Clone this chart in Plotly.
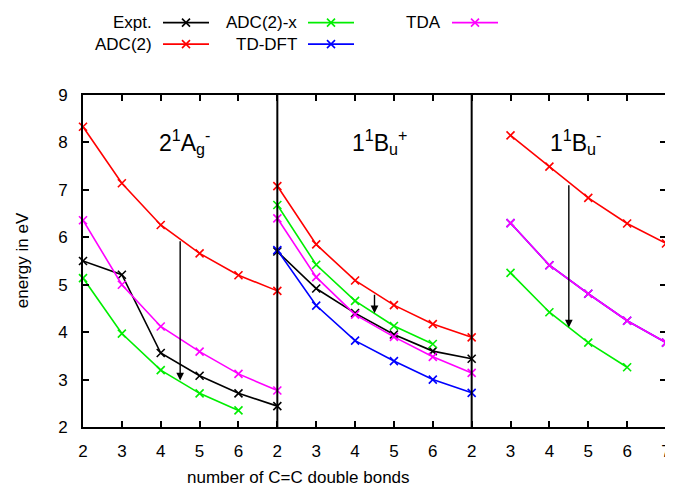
import plotly.graph_objects as go

# ---------------- data ----------------
tick_labels = ["2", "3", "4", "5", "6", "2", "3", "4", "5", "6", "2", "3", "4", "5", "6", "7"]
panel_titles = ["2<sup>1</sup>A<sub>g</sub><sup>-</sup>",
                "1<sup>1</sup>B<sub>u</sub><sup>+</sup>",
                "1<sup>1</sup>B<sub>u</sub><sup>-</sup>"]

# panel 1: 2^1Ag-
p1_n = [2, 3, 4, 5, 6, 7]
p1_expt = [5.50, 5.21, 3.56, 3.08, 2.71, 2.44]
p1_adc2 = [8.33, 7.14, 6.26, 5.66, 5.20, 4.87]
p1_adc2x = [5.14, 3.97, 3.20, 2.71, 2.35]
p1_tda = [6.36, 5.00, 4.12, 3.59, 3.12, 2.77]

# panel 2: 1^1Bu+
p2_n = [2, 3, 4, 5, 6, 7]
p2_expt = [5.70, 4.92, 4.40, 3.95, 3.60, 3.44]
p2_adc2 = [7.08, 5.85, 5.09, 4.57, 4.17, 3.89]
p2_adc2x = [6.68, 5.42, 4.66, 4.13, 3.75]
p2_tddft = [5.73, 4.56, 3.82, 3.39, 3.00, 2.72]
p2_tda = [6.40, 5.16, 4.37, 3.90, 3.48, 3.14]

# panel 3: 1^1Bu-
p3_n = [3, 4, 5, 6, 7]
p3_adc2 = [8.15, 7.49, 6.83, 6.29, 5.87]
p3_adc2x = [5.25, 4.42, 3.78, 3.26]
p3_tddft = [6.30, 5.41, 4.81, 4.24, 3.78]
p3_tda = [6.30, 5.41, 4.81, 4.24, 3.78]

# arrows (n value, from energy, to energy), one per panel
arrow_n = [4.5, 4.5, 4.5]
arrow_from = [5.95, 4.82, 7.13]
arrow_to = [2.98, 4.40, 4.10]

# ---------------- styling ----------------
series_names = ["Expt.", "ADC(2)", "ADC(2)-x", "TD-DFT", "TDA"]
colors = {"Expt.": "#000000", "ADC(2)": "#ff0000", "ADC(2)-x": "#00ee00",
          "TD-DFT": "#0000ff", "TDA": "#ff00ff"}
panel_offset = [0, 5, 10]   # x position of n=2 in each panel
FONT = "Liberation Sans, Arial, Helvetica, sans-serif"

panels = [
    {"n": p1_n, "Expt.": p1_expt, "ADC(2)": p1_adc2, "ADC(2)-x": p1_adc2x, "TDA": p1_tda},
    {"n": p2_n, "Expt.": p2_expt, "ADC(2)": p2_adc2, "ADC(2)-x": p2_adc2x, "TD-DFT": p2_tddft, "TDA": p2_tda},
    {"n": p3_n, "ADC(2)": p3_adc2, "ADC(2)-x": p3_adc2x, "TD-DFT": p3_tddft, "TDA": p3_tda},
]

fig = go.Figure()

for pi, p in enumerate(panels):
    for name in series_names:
        if name not in p:
            continue
        vals = p[name]
        xs = [panel_offset[pi] + (n - 2) for n in p["n"][:len(vals)]]
        fig.add_trace(go.Scatter(
            x=xs, y=vals, mode="lines+markers", name=name, showlegend=False,
            line=dict(color=colors[name], width=1.6),
            marker=dict(symbol="x-thin", size=8, color=colors[name],
                        line=dict(color=colors[name], width=1.6)),
            cliponaxis=False, xaxis="x", yaxis="y"))

# panel separators
for off in panel_offset[1:]:
    fig.add_shape(type="line", xref="x", yref="y domain", x0=off, x1=off, y0=0, y1=1,
                  line=dict(color="black", width=2))

# arrows
for pi in range(3):
    xa = panel_offset[pi] + (arrow_n[pi] - 2)
    fig.add_annotation(x=xa, y=arrow_to[pi], ax=xa, ay=arrow_from[pi],
                       xref="x", yref="y", axref="x", ayref="y",
                       showarrow=True, arrowhead=2, arrowsize=1.1, arrowwidth=1.4,
                       arrowcolor="black", text="", standoff=0)

# panel titles
title_pos = [(2.62, 8.0), (7.64, 8.0), (12.66, 8.0)]
for (tx, ty), t in zip(title_pos, panel_titles):
    fig.add_annotation(x=tx, y=ty, xref="x", yref="y", text=t, showarrow=False,
                       xanchor="center", yanchor="middle",
                       font=dict(family=FONT, size=23, color="black"))

# ---------------- legend (gnuplot style: text then sample) ----------------
legend_items = [("Expt.", 154, 22.7), ("ADC(2)", 154, 44.3),
                ("ADC(2)-x", 299, 22.7), ("TD-DFT", 299, 44.3),
                ("TDA", 443, 22.7)]
for name, xr, yy in legend_items:
    fig.add_annotation(x=xr, y=yy, xref="x2", yref="y2", text=name, showarrow=False,
                       xanchor="right", yanchor="middle",
                       font=dict(family=FONT, size=17, color="black"))
    fig.add_trace(go.Scatter(x=[xr + 9, xr + 55], y=[yy, yy], mode="lines",
                             line=dict(color=colors[name], width=1.6),
                             showlegend=False, xaxis="x2", yaxis="y2", hoverinfo="skip"))
    fig.add_trace(go.Scatter(x=[xr + 32], y=[yy], mode="markers",
                             marker=dict(symbol="x-thin", size=8, color=colors[name],
                                         line=dict(color=colors[name], width=1.6)),
                             showlegend=False, xaxis="x2", yaxis="y2", hoverinfo="skip"))

# axis titles
fig.add_annotation(x=0.369, y=-0.1223, xref="paper", yref="paper",
                   xanchor="center", yanchor="middle",
                   text="number of C=C double bonds", showarrow=False,
                   font=dict(family=FONT, size=17, color="black"))
fig.add_annotation(x=-0.1046, y=0.40, xref="paper", yref="paper",
                   xanchor="center", yanchor="middle",
                   text="energy in eV", showarrow=False, textangle=-90,
                   font=dict(family=FONT, size=17, color="black"))

# page body has an 8px margin, so the figure is 8px smaller than the window
top_frac = 332 / 417
fig.update_layout(
    template="none",
    width=665, height=482,
    margin=dict(l=75, r=7, t=2, b=63, autoexpand=False),
    paper_bgcolor="white", plot_bgcolor="white",
    showlegend=False,
    font=dict(family=FONT, size=17, color="black"),
    xaxis=dict(domain=[0, 1], range=[0, 15], tickmode="array",
               tickvals=list(range(len(tick_labels))), ticktext=tick_labels,
               ticks="inside", ticklen=6, tickwidth=1.5, tickcolor="black",
               showline=True, linewidth=2, linecolor="black", mirror="allticks",
               showgrid=False, zeroline=False, ticklabelstandoff=8,
               automargin=False, ticklabeloverflow="allow",
               tickfont=dict(family=FONT, size=17), anchor="y"),
    yaxis=dict(domain=[0, top_frac], range=[2, 9], tickmode="array",
               tickvals=[2, 3, 4, 5, 6, 7, 8, 9],
               ticks="inside", ticklen=6, tickwidth=1.5, tickcolor="black",
               showline=True, linewidth=2, linecolor="black", mirror="allticks",
               showgrid=False, zeroline=False, ticklabelstandoff=10,
               automargin=False,
               tickfont=dict(family=FONT, size=17), anchor="x"),
    xaxis2=dict(domain=[0, 1], range=[83, 666], visible=False, anchor="y2", automargin=False),
    yaxis2=dict(domain=[top_frac + 0.005, 1], range=[93.4, 10], visible=False, anchor="x2",
                automargin=False),
)

fig.write_html("out.html")
